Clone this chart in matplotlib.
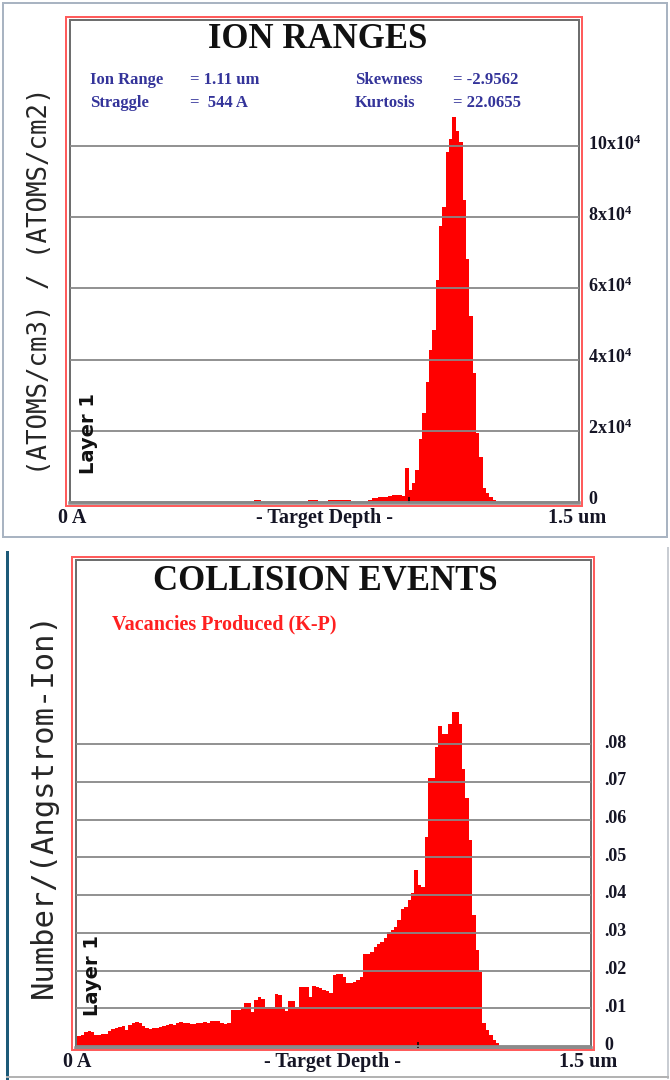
import numpy as np
import matplotlib
matplotlib.use("Agg")
import matplotlib.pyplot as plt
from matplotlib.patches import Rectangle
from matplotlib.lines import Line2D
from matplotlib.transforms import ScaledTranslation

# depth bins are 0.01 um wide, starting at the surface
bin_w = 0.01

# ion range distribution, (atoms/cm3)/(atoms/cm2), one value per bin
ion_counts = [
    0, 0, 0, 0, 0, 0, 0, 0, 0, 0,
    0, 0, 0, 0, 0, 0, 0, 0, 0, 0,
    0, 0, 0, 0, 0, 0, 0, 0, 0, 0,
    0, 0, 0, 0, 0, 0, 0, 0, 0, 0,
    0, 0, 0, 0, 0, 0, 0, 0, 0, 0,
    0, 0, 0, 0, 500, 500, 0, 0, 0, 0,
    0, 0, 0, 0, 0, 0, 0, 0, 0, 0,
    500, 500, 400, 0, 0, 0, 500, 500, 500, 500,
    500, 500, 500, 0, 0, 0, 0, 0, 600, 1100,
    1100, 1200, 1300, 1300, 1600, 1800, 1900, 1800, 1700, 9600,
    3400, 5400, 9000, 17500, 25000, 33800, 42800, 48400, 62500, 77500,
    83000, 98300, 102000, 108200, 104200, 101100, 85000, 68200, 52100, 36300,
    19400, 12700, 3900, 2500, 1400, 500,
]

# vacancies produced (K-P), number/(Angstrom-Ion), one value per bin
vacancies = [
    0.0026, 0.0030, 0.0038, 0.0039, 0.0036, 0.0030, 0.0029, 0.0031, 0.0033, 0.0040,
    0.0044, 0.0047, 0.0050, 0.0053, 0.0042, 0.0055, 0.0062, 0.0064, 0.0060, 0.0053,
    0.0048, 0.0045, 0.0047, 0.0049, 0.0051, 0.0053, 0.0056, 0.0058, 0.0056, 0.0060,
    0.0064, 0.0062, 0.0060, 0.0057, 0.0058, 0.0060, 0.0062, 0.0064, 0.0062, 0.0066,
    0.0067, 0.0065, 0.0062, 0.0058, 0.0060, 0.0095, 0.0095, 0.0096, 0.0100, 0.0115,
    0.0115, 0.0091, 0.0122, 0.0130, 0.0125, 0.0104, 0.0104, 0.0104, 0.0139, 0.0135,
    0.0104, 0.0093, 0.0120, 0.0120, 0.0104, 0.0157, 0.0157, 0.0157, 0.0130, 0.0159,
    0.0155, 0.0153, 0.0148, 0.0145, 0.0140, 0.0188, 0.0192, 0.0192, 0.0183, 0.0167,
    0.0167, 0.0170, 0.0175, 0.0183, 0.0245, 0.0245, 0.0250, 0.0261, 0.0270, 0.0276,
    0.0285, 0.0302, 0.0307, 0.0316, 0.0333, 0.0362, 0.0369, 0.0388, 0.0404, 0.0466,
    0.0426, 0.0421, 0.0554, 0.0711, 0.0711, 0.0792, 0.0847, 0.0827, 0.0827, 0.0854,
    0.0884, 0.0884, 0.0854, 0.0735, 0.0656, 0.0545, 0.0347, 0.0254, 0.0197, 0.0061,
    0.0042, 0.0029, 0.0016, 0.0008,
]

ion_ticks = [0, 2e4, 4e4, 6e4, 8e4, 10e4]
ion_tick_labels = ["0", r"2x10$^{4}$", r"4x10$^{4}$", r"6x10$^{4}$", r"8x10$^{4}$", r"10x10$^{4}$"]
vac_ticks = [0, 0.01, 0.02, 0.03, 0.04, 0.05, 0.06, 0.07, 0.08]
vac_tick_labels = ["0", ".01", ".02", ".03", ".04", ".05", ".06", ".07", ".08"]
depth_ticks = [0, 0.75, 1.5]
depth_labels = ["0 A", "- Target Depth -", "1.5 um"]
layer_edge = [1.0]

ion_stats = [("Ion Range", "= 1.11 um"), ("Straggle", "=  544 A")]
ion_moments = [("Skewness", "= -2.9562"), ("Kurtosis", "= 22.0655")]

plt.rcParams["mathtext.fontset"] = "custom"
plt.rcParams["mathtext.rm"] = "Liberation Serif:bold"
plt.rcParams["mathtext.bf"] = "Liberation Serif:bold"
plt.rcParams["mathtext.it"] = "Liberation Serif:bold"

W, H = 670, 1080
fig = plt.figure(figsize=(W / 100, H / 100), dpi=100)

SERIF = "Liberation Serif"
RED = "#ff0000"
FRAME_RED = "#ff5c5c"
GRID = "#878787"
INK = "#151525"
STAT_BLUE = "#34349a"


def fx(x):
    return x / W


def fy(y):
    return 1 - y / H


def lw(p):
    # pixels -> points
    return p * 0.72


def axes_from_pixels(box, x_ref, y_ref):
    l, t, r, b = box
    ax = fig.add_axes([fx(l), fy(b), (r - l) / W, (b - t) / H])
    (xp0, xv0), (xp1, xv1) = x_ref
    sx = (xv1 - xv0) / (xp1 - xp0)
    ax.set_xlim(xv0 + (l - xp0) * sx, xv0 + (r - xp0) * sx)
    (yp0, yv0), (yp1, yv1) = y_ref
    sy = (yv1 - yv0) / (yp1 - yp0)
    ax.set_ylim(yv0 + (b - yp0) * sy, yv0 + (t - yp0) * sy)
    return ax


def style_axes(ax, yticks, ylabels, ypad, xpad, lift):
    for side in ("left", "top", "right"):
        ax.spines[side].set_color("#6e6e6e")
        ax.spines[side].set_linewidth(lw(2))
    ax.spines["bottom"].set_color("#8c8c8c")
    ax.spines["bottom"].set_linewidth(lw(3.5))
    ax.yaxis.tick_right()
    ax.set_yticks(yticks)
    ax.set_yticklabels(ylabels, fontfamily=SERIF, fontweight="bold", fontsize=13, color=INK)
    ax.tick_params(axis="y", length=0, pad=ypad)
    # value labels sit a few pixels above their grid line
    for t in ax.get_yticklabels():
        t.set_transform(t.get_transform() + ScaledTranslation(0, lift / 100, fig.dpi_scale_trans))
    ax.yaxis.grid(True, color=GRID, linewidth=lw(1.8))
    ax.set_axisbelow(False)
    ax.set_xticks(depth_ticks)
    ax.set_xticklabels(depth_labels, fontfamily=SERIF, fontweight="bold", fontsize=14.5, color=INK)
    ax.tick_params(axis="x", which="major", length=0, pad=xpad)
    ax.set_xticks(layer_edge, minor=True)
    ax.tick_params(axis="x", which="minor", direction="in", length=lw(6), width=lw(1.5), color="k")


def frame(l, t, r, b, color, width):
    fig.patches.append(Rectangle((fx(l), fy(b)), (r - l) / W, (b - t) / H, transform=fig.transFigure,
                                 fill=False, edgecolor=color, linewidth=lw(width)))


def vline(x, t, b, color, width):
    fig.lines.append(Line2D([fx(x), fx(x)], [fy(t), fy(b)], transform=fig.transFigure, color=color, linewidth=lw(width)))


def hline(y, l, r, color, width):
    fig.lines.append(Line2D([fx(l), fx(r)], [fy(y), fy(y)], transform=fig.transFigure, color=color, linewidth=lw(width)))


def stat(x, y, s):
    fig.text(fx(x), fy(y), s, ha="left", va="center", fontfamily=SERIF,
             fontweight="bold", fontsize=12, color=STAT_BLUE)


# ---- ion ranges ----
frame(3, 3, 667, 537, "#a9b4c2", 2)
frame(66, 17, 582, 506, FRAME_RED, 2)
ax1 = axes_from_pixels((70, 20, 579, 503), ((72, 0), (577, 1.5)), ((501.7, 0), (146.2, 1e5)))
ion_depth = np.arange(len(ion_counts)) * bin_w
ax1.bar(ion_depth, ion_counts, width=bin_w, align="edge", color=RED, linewidth=0, zorder=1)
style_axes(ax1, ion_ticks, ion_tick_labels, ypad=lw(9), xpad=lw(5), lift=4)

fig.text(fx(318), fy(40), "ION RANGES", ha="center", va="center", fontfamily=SERIF,
         fontweight="bold", fontsize=25, color="#111111")
for i, (name, val) in enumerate(ion_stats):
    stat(90, 80 + 23 * i, name)
    stat(190, 80 + 23 * i, val)
for i, (name, val) in enumerate(ion_moments):
    stat(355, 80 + 23 * i, name)
    stat(453, 80 + 23 * i, val)

fig.text(fx(40), fy(281), "(ATOMS/cm3) / (ATOMS/cm2)", rotation=90, ha="center", va="center",
         fontfamily="DejaVu Sans Mono", fontsize=18.5, color="#262626")
fig.text(fx(88), fy(433), "Layer 1", rotation=90, ha="center", va="center",
         fontfamily="DejaVu Sans", fontweight="bold", fontsize=14, color="#111111")

# ---- collision events ----
vline(7, 552, 1078, "#1d5a78", 3)
vline(668, 548, 1078, "#c9cdd3", 2)
hline(1077, 7, 668, "#b3b3b3", 2)
frame(72, 557, 594, 1050, FRAME_RED, 2)
ax2 = axes_from_pixels((76, 560, 591, 1048), ((77.3, 0), (588, 1.5)), ((1046, 0), (744, 0.08)))
vac_depth = np.arange(len(vacancies)) * bin_w
ax2.bar(vac_depth, vacancies, width=bin_w, align="edge", color=RED, linewidth=0, zorder=1)
style_axes(ax2, vac_ticks, vac_tick_labels, ypad=lw(13), xpad=lw(4), lift=3)

fig.text(fx(325), fy(582), "COLLISION EVENTS", ha="center", va="center", fontfamily=SERIF,
         fontweight="bold", fontsize=25, color="#111111")
fig.text(fx(112), fy(624), "Vacancies Produced (K-P)", ha="left", va="center", fontfamily=SERIF,
         fontweight="bold", fontsize=14.5, color="#ff2020")
fig.text(fx(43), fy(805), "Number/(Angstrom-Ion)", rotation=90, ha="center", va="center",
         fontfamily="DejaVu Sans Mono", fontsize=22, color="#262626")
fig.text(fx(92), fy(975), "Layer 1", rotation=90, ha="center", va="center",
         fontfamily="DejaVu Sans", fontweight="bold", fontsize=14, color="#111111")

fig.savefig("out.png", dpi=100)
